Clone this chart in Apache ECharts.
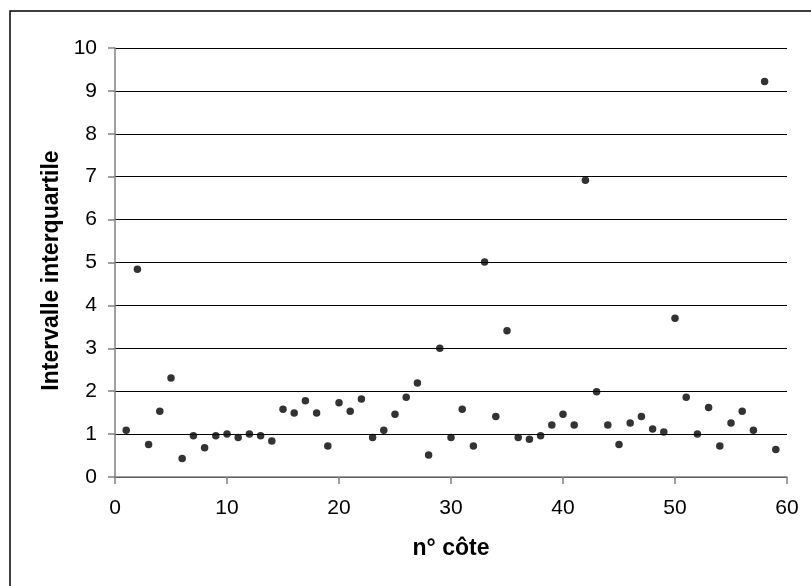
<!DOCTYPE html>
<html><head><meta charset="utf-8">
<script src="https://cdn.jsdelivr.net/npm/echarts@6/dist/echarts.min.js"></script>
<style>html,body{margin:0;padding:0;background:#fff}#c{width:811px;height:586px}</style>
</head><body><div id="c"></div>
<script>
const xValues = [1,2,3,4,5,6,7,8,9,10,11,12,13,14,15,16,17,18,19,20,21,22,23,24,25,26,27,28,29,30,31,32,33,34,35,36,37,38,39,40,41,42,43,44,45,46,47,48,49,50,51,52,53,54,55,56,57,58,59];
const yValues = [1.09,4.84,0.76,1.53,2.31,0.43,0.96,0.68,0.96,1.0,0.92,1.0,0.96,0.84,1.58,1.49,1.78,1.49,0.72,1.73,1.53,1.82,0.92,1.09,1.46,1.86,2.19,0.51,3.0,0.92,1.58,0.72,5.01,1.41,3.41,0.92,0.88,0.96,1.21,1.46,1.21,6.92,1.99,1.21,0.76,1.26,1.41,1.12,1.05,3.70,1.86,1.0,1.62,0.72,1.26,1.53,1.09,9.22,0.64];
const xTitle = 'n° côte';
const yTitle = 'Intervalle interquartile';

const chart = echarts.init(document.getElementById('c'));
const font = 'Liberation Sans, Arial, sans-serif';
chart.setOption({
  animation: false,
  backgroundColor: '#fff',
  graphic: [{type:'rect', shape:{x:10,y:11,width:820,height:620}, style:{fill:'none', stroke:'#000', lineWidth:1.5}, z:-1}],
  grid: {left:115, top:48, right:24, bottom:109},
  xAxis: {
    type:'value', min:0, max:60, interval:10,
    name: xTitle, nameLocation:'middle', nameGap:60,
    nameTextStyle:{fontFamily:font, fontWeight:'bold', fontSize:23, color:'#000'},
    axisLine:{show:true, lineStyle:{color:'#808080', width:1.5}},
    axisTick:{show:true, length:7, inside:false, lineStyle:{color:'#808080', width:1.5}},
    axisLabel:{fontFamily:font, fontSize:21, color:'#000', margin:21},
    splitLine:{show:false}
  },
  yAxis: {
    type:'value', min:0, max:10, interval:1,
    name: yTitle, nameLocation:'middle', nameGap:52, nameRotate:90,
    nameTextStyle:{fontFamily:font, fontWeight:'bold', fontSize:23, color:'#000', padding:[0,16,0,0]},
    axisLine:{show:true, lineStyle:{color:'#808080', width:1.5}},
    axisTick:{show:true, length:7, lineStyle:{color:'#808080', width:1.5}},
    axisLabel:{fontFamily:font, fontSize:21, color:'#000', margin:18},
    splitLine:{show:true, lineStyle:{color:'#000', width:1}}
  },
  series: [{
    type:'scatter', symbol:'circle', symbolSize:7.5,
    itemStyle:{color:'#000'},
    data: xValues.map((x,i)=>[x, yValues[i]])
  }]
});
</script></body></html>
